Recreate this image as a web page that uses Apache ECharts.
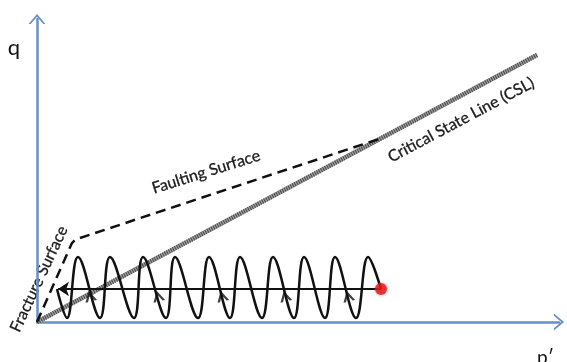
<!DOCTYPE html>
<html>
<head>
<meta charset="utf-8">
<script src="https://cdn.jsdelivr.net/npm/echarts@6/dist/echarts.min.js"></script>
<style>
  html, body { margin: 0; padding: 0; background: #ffffff; }
  #chart { width: 567px; height: 362px; }
</style>
</head>
<body>
<div id="chart"></div>
<script>
// p'–q stress space (schematic units)
const xRange = [0, 100];
const yRange = [0, 60];

// Critical State Line from the origin
const cslLine = [[0, 0], [95.79, 52.87]];

// Fracture surface rising steeply, bending into the faulting surface, meeting the CSL
const failureEnvelope = [[0, 0], [6.70, 15.64], [7.28, 16.24], [8.24, 16.63], [65.71, 36.30]];

// Cyclic stress path: start, alternating troughs/crests, end at the initial state
const pathX = [3.83, 5.75, 7.85, 12.07, 13.98, 18.58, 20.31, 24.71, 26.44, 30.84, 32.95,
               36.97, 38.89, 43.10, 45.21, 49.23, 51.15, 55.17, 57.09, 61.11, 63.41, 65.90];
const pathY = [6.53, 0.79, 12.87, 0.79, 12.87, 0.79, 12.87, 0.79, 12.87, 0.79, 12.87,
               0.79, 12.87, 0.79, 12.87, 0.79, 12.87, 0.79, 12.87, 0.79, 12.87, 6.53];

// Initial stress state and the net drift of p'
const initialState = [65.90, 6.53];
const driftEnd = [4.02, 6.53];

// Direction markers along the rising branches
const markerX = [10.15, 23.18, 35.44, 47.51, 59.58];
const markerY = [5.15, 5.15, 5.15, 5.15, 5.15];

const labels = {
  q: 'q',
  p: 'p\u2032',
  csl: 'Critical State Line (CSL)',
  faulting: 'Faulting Surface',
  fracture: 'Fracture Surface'
};

const axisColor = '#6b8fc2';
const ink = '#111111';
const openArrow = 'path://M0,12 L10,0 L20,12 L17.4,12 L10,3.4 L2.6,12 Z';
const chevron = 'path://M0,10 L6,0 L12,10 L9.4,10 L6,4.2 L2.6,10 Z';
const font = 'Lato, "Open Sans", sans-serif';

const chart = echarts.init(document.getElementById('chart'), null, { renderer: 'canvas' });

chart.setOption({
  animation: false,
  backgroundColor: '#ffffff',
  grid: { left: 37, right: 8, top: 19, bottom: 40 },
  xAxis: {
    type: 'value', min: xRange[0], max: xRange[1],
    axisLine: { show: true, symbol: ['none', openArrow], symbolSize: [17, 11],
                lineStyle: { color: axisColor, width: 2.5 } },
    axisTick: { show: false }, axisLabel: { show: false }, splitLine: { show: false }
  },
  yAxis: {
    type: 'value', min: yRange[0], max: yRange[1],
    axisLine: { show: true, symbol: ['none', openArrow], symbolSize: [17, 13],
                lineStyle: { color: axisColor, width: 2.5 } },
    axisTick: { show: false }, axisLabel: { show: false }, splitLine: { show: false }
  },
  series: [
    {
      type: 'line', data: cslLine, showSymbol: false, z: 2,
      lineStyle: { color: '#a0a0a0', width: 4.5 }
    },
    {
      type: 'line', data: cslLine, showSymbol: false, z: 3,
      lineStyle: { color: '#454545', width: 4.5, type: [1, 1.3] }
    },
    {
      type: 'line', data: failureEnvelope, showSymbol: false, z: 4,
      lineStyle: { color: ink, width: 2.5, type: [10, 6] }
    },
    {
      type: 'line', data: pathX.map((x, i) => [x, pathY[i]]), showSymbol: false,
      smooth: 0.4, z: 5,
      lineStyle: { color: ink, width: 2.5 }
    },
    {
      type: 'lines', coordinateSystem: 'cartesian2d', z: 6,
      symbol: ['none', 'arrow'], symbolSize: 11,
      lineStyle: { color: ink, width: 2, opacity: 1 },
      data: [{ coords: [initialState, driftEnd] }]
    },
    {
      type: 'scatter', z: 7, symbol: chevron, symbolSize: [12, 11], symbolRotate: 14,
      itemStyle: { color: ink },
      data: markerX.map((x, i) => [x, markerY[i]])
    },
    {
      type: 'scatter', z: 8, symbolSize: 12,
      itemStyle: { color: '#e3161b', shadowBlur: 3, shadowColor: 'rgba(227,22,27,0.6)' },
      data: [initialState]
    }
  ],
  graphic: [
    { type: 'text', x: 14, y: 48, style: { text: labels.q, font: '22px ' + font, fill: '#111',
      align: 'center', verticalAlign: 'middle' } },
    { type: 'text', x: 537, y: 367, style: { text: labels.p, font: '19px ' + font, fill: '#111',
      align: 'left', verticalAlign: 'bottom' } },
    { type: 'text', x: 206, y: 172, rotation: 17.5 * Math.PI / 180,
      style: { text: labels.faulting, font: '16px ' + font, fill: '#1a1a1a',
      stroke: '#1a1a1a', lineWidth: 0.3, align: 'center', verticalAlign: 'middle' } },
    { type: 'text', x: 461, y: 120, rotation: 28 * Math.PI / 180,
      style: { text: labels.csl, font: '16px ' + font, fill: '#1a1a1a',
      stroke: '#1a1a1a', lineWidth: 0.3, align: 'center', verticalAlign: 'middle' } },
    { type: 'text', x: 39, y: 279, rotation: 65 * Math.PI / 180,
      style: { text: labels.fracture, font: '16px ' + font, fill: '#1a1a1a',
      stroke: '#1a1a1a', lineWidth: 0.3, align: 'center', verticalAlign: 'middle' } }
  ]
});
</script>
</body>
</html>
